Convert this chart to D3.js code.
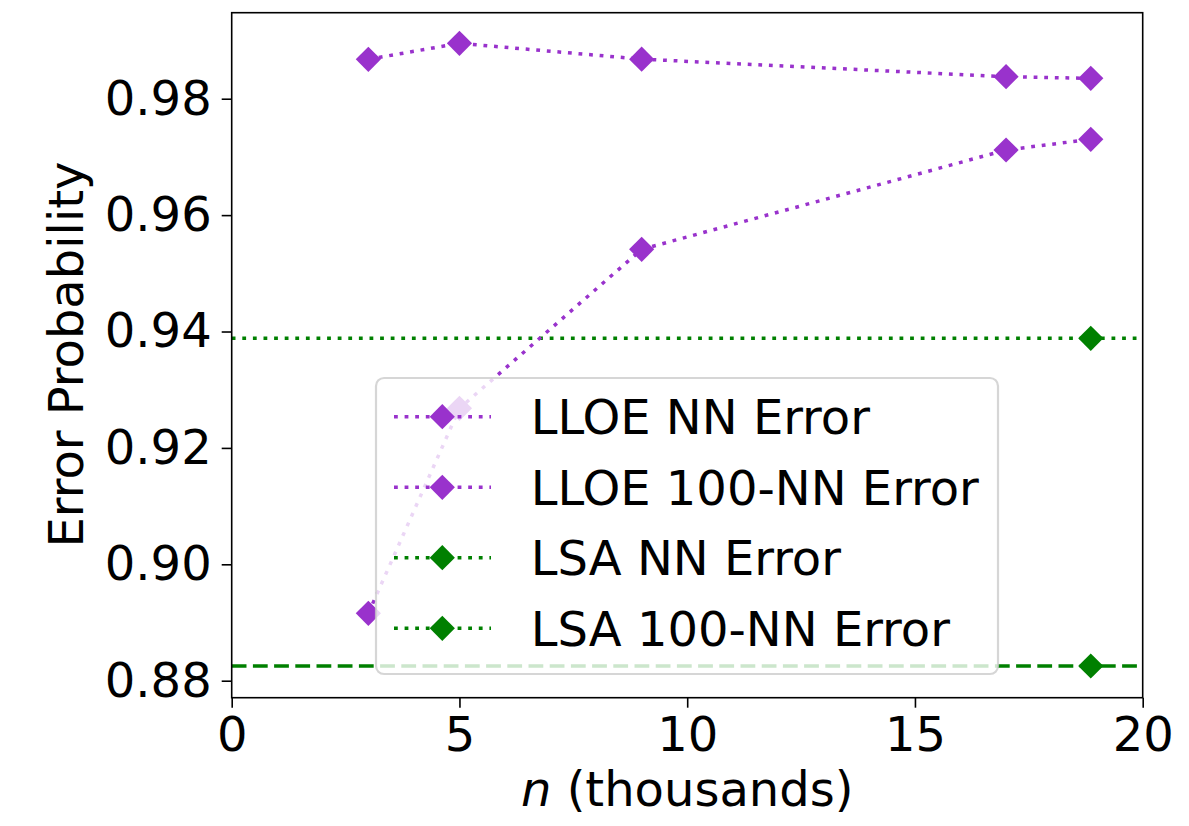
<!DOCTYPE html>
<html>
<head>
<meta charset="utf-8">
<script src="https://cdn.jsdelivr.net/npm/d3@7"></script>
<style>
  html, body { margin: 0; padding: 0; background: #fff; }
  svg { display: block; }
  text { font-family: "DejaVu Sans", sans-serif; }
</style>
</head>
<body>
<svg id="chart" width="1189" height="826"></svg>
<script>
// ---- data ----
const nValues = [3, 5, 9, 17, 18.86];
const lloeNN = [0.98677, 0.98952, 0.98680, 0.98378, 0.98350];
const lloe100NN = [0.89158, 0.92680, 0.95412, 0.97119, 0.97302];
const lsaN = [18.86];
const lsaNN = [0.93883];
const lsa100NN = [0.88253];
const xTicks = [0, 5, 10, 15, 20];
const yTicks = [0.88, 0.90, 0.92, 0.94, 0.96, 0.98];
const legendLabels = ["LLOE NN Error", "LLOE 100-NN Error", "LSA NN Error", "LSA 100-NN Error"];

// ---- layout ----
const purple = "#9932CC", green = "#008000";
const L = 231.7, R = 1142.7, T = 12.7, B = 697.7;
const svg = d3.select("#chart");
const x = d3.scaleLinear().domain([0, 20]).range([L, R]);
const y = d3.scaleLinear().domain([0.87708, 0.99478]).range([B, T]);

const dotted = "3.8 6.8";
const dashed = "14.8 6.4";
const lw = 3.5;
const diamond = (cx, cy, r) => `M${cx},${cy - r}L${cx + r},${cy}L${cx},${cy + r}L${cx - r},${cy}Z`;
const mr = 12.6;

svg.append("defs").append("clipPath").attr("id", "clip")
  .append("rect").attr("x", L).attr("y", T).attr("width", R - L).attr("height", B - T);

const plot = svg.append("g").attr("clip-path", "url(#clip)");

// horizontal LSA lines
plot.append("line")
  .attr("x1", x(0)).attr("x2", x(20)).attr("y1", y(lsaNN[0])).attr("y2", y(lsaNN[0]))
  .attr("stroke", green).attr("stroke-width", lw).attr("stroke-dasharray", dotted);
plot.append("line")
  .attr("x1", x(0)).attr("x2", x(20)).attr("y1", y(lsa100NN[0])).attr("y2", y(lsa100NN[0]))
  .attr("stroke", green).attr("stroke-width", lw).attr("stroke-dasharray", dashed);

const lineGen = d3.line().x(d => x(d[0])).y(d => y(d[1]));
const series = [
  { xs: nValues, ys: lloeNN, color: purple },
  { xs: nValues, ys: lloe100NN, color: purple },
  { xs: lsaN, ys: lsaNN, color: green },
  { xs: lsaN, ys: lsa100NN, color: green }
];
series.forEach(s => {
  const pts = s.xs.map((v, i) => [v, s.ys[i]]);
  if (pts.length > 1) {
    plot.append("path").attr("d", lineGen(pts)).attr("fill", "none")
      .attr("stroke", s.color).attr("stroke-width", lw).attr("stroke-dasharray", dotted);
  }
  pts.forEach(p => {
    plot.append("path").attr("d", diamond(x(p[0]), y(p[1]), mr)).attr("fill", s.color);
  });
});

// axes
const xAxis = d3.axisBottom(x).tickValues(xTicks).tickFormat(d3.format("d")).tickSize(10).tickPadding(9);
const yAxis = d3.axisLeft(y).tickValues(yTicks).tickFormat(d3.format(".2f")).tickSize(10).tickPadding(10);
const gx = svg.append("g").attr("transform", `translate(0,${B})`).call(xAxis);
const gy = svg.append("g").attr("transform", `translate(${L},0)`).call(yAxis);
[gx, gy].forEach(g => {
  g.select(".domain").remove();
  g.selectAll(".tick line").attr("stroke", "#000").attr("stroke-width", 1.6);
  g.selectAll(".tick text").attr("font-size", 48).attr("fill", "#000")
    .attr("font-family", "'DejaVu Sans', sans-serif");
});

// frame
svg.append("rect").attr("x", L).attr("y", T).attr("width", R - L).attr("height", B - T)
  .attr("fill", "none").attr("stroke", "#000").attr("stroke-width", 1.6);

// axis labels
const xl = svg.append("text").attr("x", (L + R) / 2).attr("y", 806)
  .attr("text-anchor", "middle").attr("font-size", 48).attr("fill", "#000");
xl.append("tspan").attr("font-style", "italic").text("n");
xl.append("tspan").text(" (thousands)");

svg.append("text").attr("transform", `translate(83,${(162 + 547) / 2}) rotate(-90)`)
  .attr("text-anchor", "middle").attr("font-size", 48).attr("fill", "#000")
  .text("Error Probability");

// legend
const lg = svg.append("g");
lg.append("rect").attr("x", 376).attr("y", 378).attr("width", 622).attr("height", 296)
  .attr("rx", 8).attr("ry", 8)
  .attr("fill", "#fff").attr("fill-opacity", 0.8)
  .attr("stroke", "#cccccc").attr("stroke-opacity", 0.8).attr("stroke-width", 2.2);
const rowY = [416.7, 487.3, 557.7, 628.3];
const legColors = [purple, purple, green, green];
legendLabels.forEach((lab, i) => {
  const cy = rowY[i];
  lg.append("line").attr("x1", 394).attr("x2", 491).attr("y1", cy).attr("y2", cy)
    .attr("stroke", legColors[i]).attr("stroke-width", lw).attr("stroke-dasharray", dotted);
  lg.append("path").attr("d", diamond(442.3, cy, mr)).attr("fill", legColors[i]);
  lg.append("text").attr("x", 530.7).attr("y", cy + 17.5).attr("font-size", 48)
    .attr("fill", "#000").text(lab);
});
</script>
</body>
</html>
